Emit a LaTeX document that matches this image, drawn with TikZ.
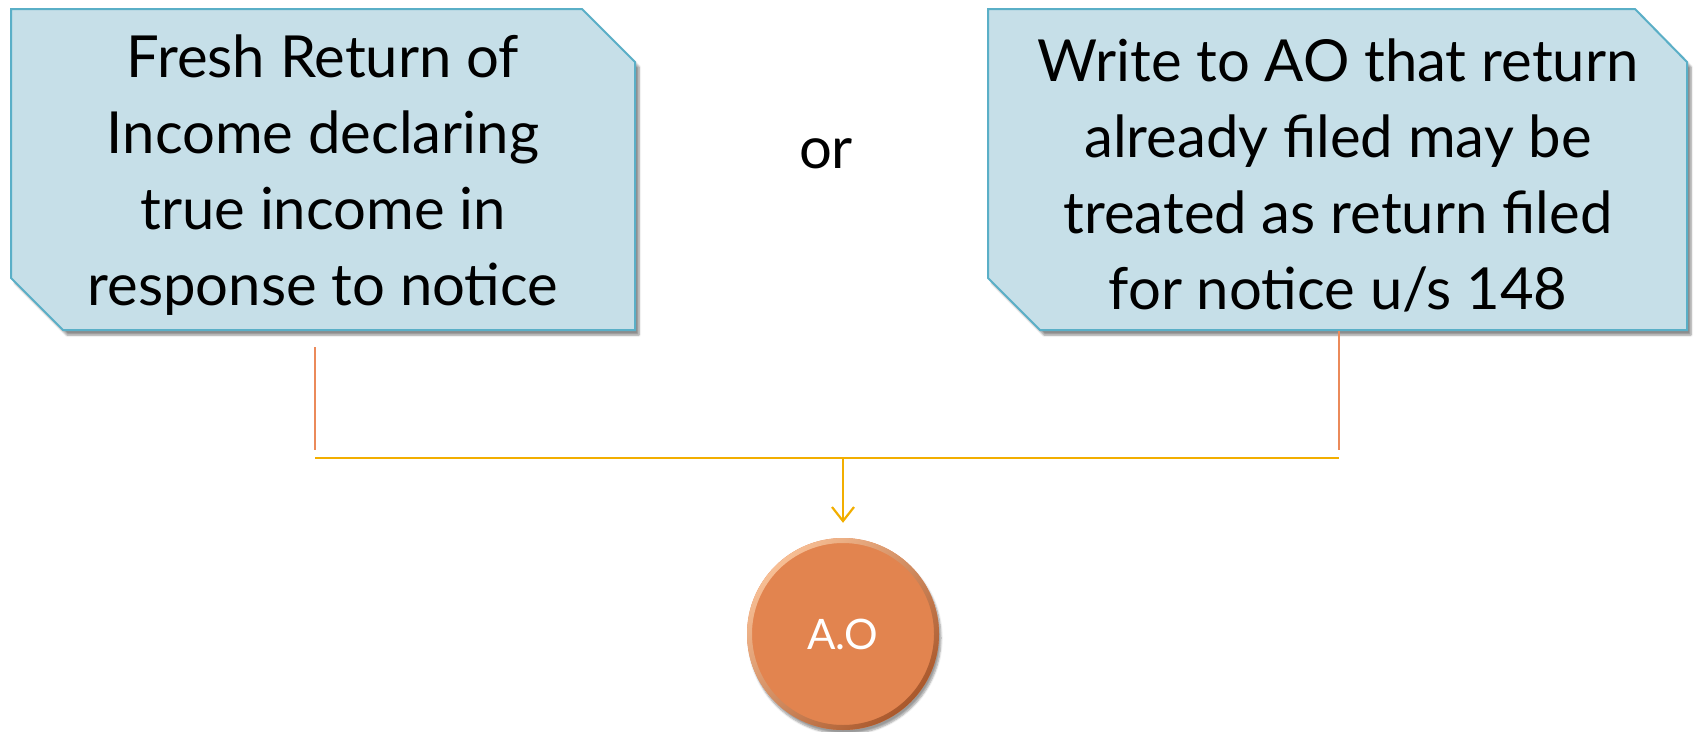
\documentclass[tikz,border=0pt]{standalone}
\usepackage{fontspec}
\setmainfont{Lato}
\usetikzlibrary{shadows.blur,arrows.meta}
\definecolor{boxfill}{HTML}{C6DFE8}
\definecolor{boxline}{HTML}{5AAFC7}
\definecolor{lineor}{HTML}{EB8A5A}
\definecolor{lineyl}{HTML}{F2AE00}
\definecolor{aofill}{HTML}{E2844F}
\definecolor{aolight}{HTML}{F7BE94}
\definecolor{aodark}{HTML}{A9582C}
\begin{document}
\begin{tikzpicture}[x=1pt,y=-1pt,
  boxshape/.style={fill=boxfill,draw=boxline,line width=2pt,
    blur shadow={shadow xshift=4pt,shadow yshift=-5pt,shadow blur steps=6,shadow opacity=45}},
  boxtext/.style={align=center,font=\fontsize{58}{76}\selectfont,inner sep=0pt},
  orline/.style={draw=lineor,line width=2.2pt},
  ylline/.style={draw=lineyl,line width=2.2pt},
  aonode/.style={circle,minimum size=192pt,inner sep=0pt,fill=aofill,
    text=white,font=\fontsize{42}{48}\selectfont,
    blur shadow={shadow xshift=2pt,shadow yshift=-4pt,shadow blur steps=6,shadow opacity=40}},
  aoring/.style={even odd rule,left color=aolight,right color=aodark,shading angle=45}]
\useasboundingbox (0,0) rectangle (1696,731);
% left box
\path[boxshape] (11,9) -- (582,9) -- (635,62) -- (635,330) -- (63,330) -- (11,278) -- cycle;
\node[boxtext] (lt) at (323,175) {Fresh Return of\\Income declaring\\true income in\\response to notice};
% right box
\path[boxshape] (988,9) -- (1635,9) -- (1687,62) -- (1687,330) -- (1040,330) -- (988,278) -- cycle;
\node[boxtext] (rt) at (1338,175) {Write to AO that return\\already filed may be\\treated as return filed\\for notice u/s 148};
% or
\node[font=\fontsize{58}{70}\selectfont,inner sep=0pt,anchor=base] (or) at (826,168) {or};
% AO circle
\node[aonode] (ao) at (843,634) {};
\shade[aoring] (ao.center) circle[radius=96] (ao.center) circle[radius=91];
\node[text=white,font=\fontsize{42}{48}\selectfont,inner sep=0pt] (aot) at (ao.center) {A.O};
% connectors
\coordinate (l1) at (315,347);
\coordinate (l2) at (315,450);
\coordinate (r1) at (1339,331);
\coordinate (r2) at (1339,450);
\coordinate (hl) at (315,458);
\coordinate (hr) at (1339,458);
\coordinate (hm) at (843,458);
\path[orline] (l1) -- (l2);
\path[orline] (r1) -- (r2);
\path[ylline] (hl) -- (hr);
\draw[ylline,-{Straight Barb[length=14pt,width=22pt,line width=2.2pt]},shorten >=15pt] (hm) -- (ao.north);
\end{tikzpicture}
\end{document}
